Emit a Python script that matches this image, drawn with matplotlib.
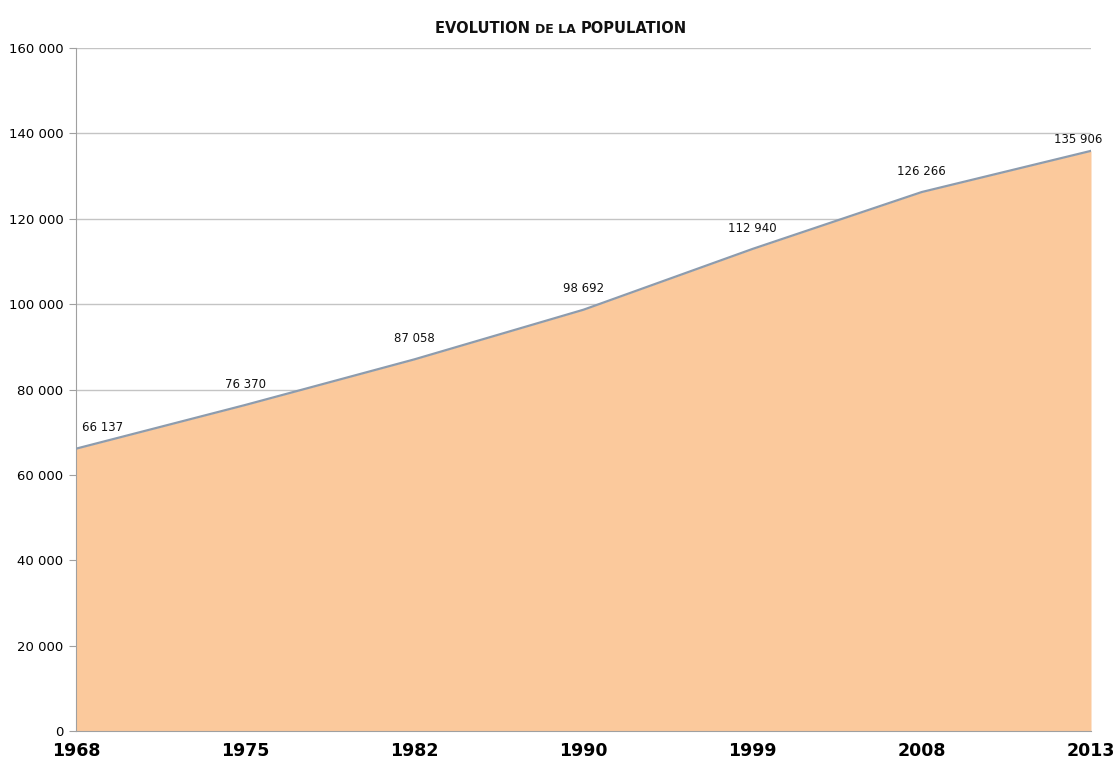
import matplotlib
matplotlib.use("Agg")
import matplotlib.pyplot as plt
from matplotlib.ticker import FuncFormatter

years = ["1968", "1975", "1982", "1990", "1999", "2008", "2013"]
population = [66137, 76370, 87058, 98692, 112940, 126266, 135906]
y_ticks = [0, 20000, 40000, 60000, 80000, 100000, 120000, 140000, 160000]

FILL = "#fbc99c"
LINE = "#8d9cae"
GRID = "#c4c4c4"


def fmt_thousands(v, pos=None):
  # french style: space as thousands separator
  return "{:,}".format(int(v)).replace(",", " ")


fig = plt.figure(figsize=(11.16, 7.65), dpi=100)
ax = fig.add_axes([76 / 1116, 1 - 731 / 765, (1091 - 76) / 1116, (731 - 48) / 765])

x = list(range(len(years)))
ax.fill_between(x, population, 0, color=FILL, linewidth=0, zorder=2)
ax.plot(x, population, color=LINE, linewidth=1.6, zorder=3)

ax.set_xlim(0, len(years) - 1)
ax.set_ylim(0, 160000)
ax.set_yticks(y_ticks)
ax.yaxis.set_major_formatter(FuncFormatter(fmt_thousands))
ax.grid(True, axis="y", color=GRID, linewidth=1, zorder=1)
ax.set_axisbelow(True)

for side in ["top", "right"]:
  ax.spines[side].set_visible(False)
ax.spines["left"].set_color("#a0a0a0")
ax.spines["bottom"].set_color("#a0a0a0")

ax.tick_params(axis="y", length=5, color="#a0a0a0", labelsize=9.5, pad=4)
ax.set_xticks(x)
ax.set_xticklabels(years, fontsize=12.5, fontweight="bold")
ax.tick_params(axis="x", length=0, pad=8)

# value labels above each point
for i, v in enumerate(population):
  dx = 0
  dy = 15
  ha = "center"
  if i == 0:
    ha, dx = "left", 4
  elif i == len(population) - 1:
    ha, dx, dy = "right", 8, 8
  ax.annotate(fmt_thousands(v), (i, v), xytext=(dx, dy), textcoords="offset points",
              ha=ha, va="center", fontsize=8.5, color="#111111", zorder=4)

# title, with the middle words in a smaller size
t1 = fig.text(435 / 1116, 1 - 33 / 765, "EVOLUTION ", fontsize=10.5, fontweight="bold",
              color="#111111", ha="left", va="baseline")
t2 = ax.annotate("DE LA ", xy=(1, 0), xycoords=t1, fontsize=9, fontweight="bold",
                 color="#111111", ha="left", va="bottom", annotation_clip=False)
ax.annotate("POPULATION", xy=(1, 0), xycoords=t2, fontsize=10.5, fontweight="bold",
            color="#111111", ha="left", va="bottom", annotation_clip=False)

fig.savefig("out.png", dpi=100)
